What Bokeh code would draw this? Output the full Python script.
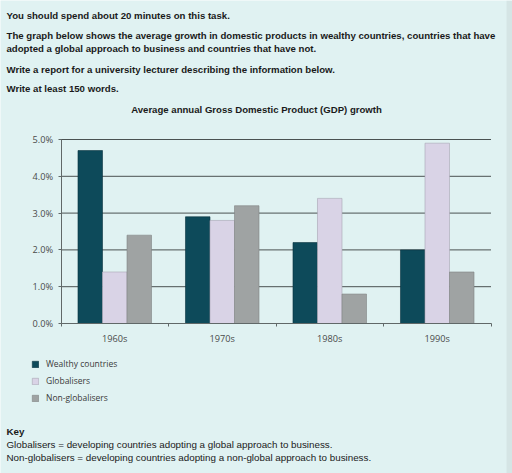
from bokeh.plotting import figure
from bokeh.models import (Range1d, LinearAxis, FixedTicker, PrintfTickFormatter,
                          Legend, LegendItem, BoxAnnotation, ColumnDataSource)
from bokeh.core.properties import value
from bokeh.embed import file_html
from bokeh.resources import INLINE

# ---------------- data ----------------
decades = ["1960s", "1970s", "1980s", "1990s"]
wealthy = [4.7, 2.9, 2.2, 2.0]
globalisers = [1.4, 2.8, 3.4, 4.9]
non_globalisers = [2.4, 3.2, 0.8, 1.4]
series_names = ["Wealthy countries", "Globalisers", "Non-globalisers"]
y_ticks = [0, 1, 2, 3, 4, 5]

intro_lines = [
    "You should spend about 20 minutes on this task.",
    "The graph below shows the average growth in domestic products in wealthy countries, countries that have",
    "adopted a global approach to business and countries that have not.",
    "Write a report for a university lecturer describing the information below.",
    "Write at least 150 words.",
]
chart_title = "Average annual Gross Domestic Product (GDP) growth"
key_title = "Key"
key_lines = [
    "Globalisers = developing countries adopting a global approach to business.",
    "Non-globalisers = developing countries adopting a non-global approach to business.",
]

# ---------------- layout helpers (page px -> data) ----------------
W, H = 512, 473
X0_PX, UNIT_X = 60.5, 107.5     # page x of category 0 start, px per category
Y0_PX, UNIT_Y = 323.0, 36.8     # page y of 0 %, px per 1 %

def fx(px):
    return (px - X0_PX) / UNIT_X

def fy(py):
    return (Y0_PX - py) / UNIT_Y

BG = "#e0f2f2"

p = figure(width=W, height=H, output_backend="svg", toolbar_location=None,
           x_axis_type=None, y_axis_type=None,
           x_range=Range1d(fx(0), fx(W)), y_range=Range1d(fy(H), fy(0)),
           min_border=0, background_fill_color=BG, border_fill_color=BG)
p.outline_line_color = None
p.xgrid.visible = False
p.ygrid.visible = False

# right-hand page edge strip
p.add_layout(BoxAnnotation(left=fx(506), fill_color="#d5e5e5", fill_alpha=1,
                           line_color=None, level="underlay"))

# ---------------- grid lines ----------------
n = len(decades)
grid_vals = [t for t in y_ticks if t > 0]
p.segment(x0=[0] * len(grid_vals), x1=[n] * len(grid_vals), y0=grid_vals, y1=grid_vals,
          line_color="#4a5252", line_width=1)

# ---------------- bars ----------------
centers = [i + 0.5 for i in range(n)]
bw = 0.228
colors = ["#0d4a5a", "#d9d3e6", "#9fa3a3"]
outlines = ["#0a3340", "#a8a4b4", "#7f8383"]
renderers = []
for k, vals in enumerate([wealthy, globalisers, non_globalisers]):
    src = ColumnDataSource(dict(x=[c + (k - 1) * bw for c in centers], top=vals))
    r = p.vbar(x="x", top="top", bottom=0, width=bw, source=src,
               fill_color=colors[k], line_color=outlines[k], line_width=0.6)
    renderers.append(r)

# ---------------- axes ----------------
tick_font = "Open Sans"
axis_col = "#606868"
yaxis = LinearAxis(fixed_location=0, bounds=(0, 5),
                   ticker=FixedTicker(ticks=y_ticks),
                   formatter=PrintfTickFormatter(format="%.1f%%"))
yaxis.axis_line_color = axis_col
yaxis.major_tick_line_color = axis_col
yaxis.major_tick_in = 0
yaxis.major_tick_out = 3
yaxis.minor_tick_line_color = None
yaxis.major_label_standoff = 5
yaxis.major_label_text_font = tick_font
yaxis.major_label_text_font_size = "9.2px"
yaxis.major_label_text_color = "#4a4a4a"
p.add_layout(yaxis, "left")

xaxis = LinearAxis(fixed_location=0, bounds=(0, n),
                   ticker=FixedTicker(ticks=list(range(n + 1))))
xaxis.axis_line_color = axis_col
xaxis.major_tick_line_color = axis_col
xaxis.major_tick_in = 0
xaxis.major_tick_out = 3
xaxis.minor_tick_line_color = None
xaxis.major_label_text_font_size = "0px"
xaxis.major_label_text_alpha = 0
p.add_layout(xaxis, "below")

xlab = LinearAxis(fixed_location=0, bounds=(0, n),
                  ticker=FixedTicker(ticks=centers),
                  major_label_overrides={c: d for c, d in zip(centers, decades)})
xlab.axis_line_color = None
xlab.major_tick_line_color = None
xlab.major_tick_in = 0
xlab.major_tick_out = 0
xlab.minor_tick_line_color = None
xlab.major_label_standoff = 8
xlab.major_label_text_font = tick_font
xlab.major_label_text_font_size = "9.2px"
xlab.major_label_text_color = "#4a4a4a"
p.add_layout(xlab, "below")

# ---------------- legend ----------------
legend = Legend(items=[LegendItem(label=nm, renderers=[r]) for nm, r in zip(series_names, renderers)],
                location=(31, 70), orientation="vertical",
                glyph_width=8, glyph_height=8, label_height=9, spacing=6,
                label_standoff=7, padding=0, margin=0,
                label_text_font=tick_font, label_text_font_size="8.5px",
                label_text_color="#3a3a3a",
                background_fill_alpha=0, border_line_alpha=0)
p.add_layout(legend, "center")

# ---------------- texts ----------------
intro_y = [15, 35, 48, 69, 88]
p.text(x=[fx(6)] * len(intro_lines), y=[fy(v) for v in intro_y], text=intro_lines,
       text_font=value("Liberation Sans"), text_font_style="bold", text_font_size="9.65px",
       text_color="#1a1a1a", text_baseline="middle", text_align="left")
p.text(x=[fx(256)], y=[fy(109)], text=[chart_title],
       text_font=value("Liberation Sans"), text_font_style="bold", text_font_size="9.6px",
       text_color="#1a1a1a", text_baseline="middle", text_align="center")
p.text(x=[fx(6)], y=[fy(431)], text=[key_title],
       text_font=value("Liberation Sans"), text_font_style="bold", text_font_size="9.8px",
       text_color="#1a1a1a", text_baseline="middle", text_align="left")
p.text(x=[fx(6)] * len(key_lines), y=[fy(444), fy(457)], text=key_lines,
       text_font=value("Liberation Sans"), text_font_size="9.8px",
       text_color="#1a1a1a", text_baseline="middle", text_align="left")

open("out.html", "w").write(file_html(p, INLINE))
